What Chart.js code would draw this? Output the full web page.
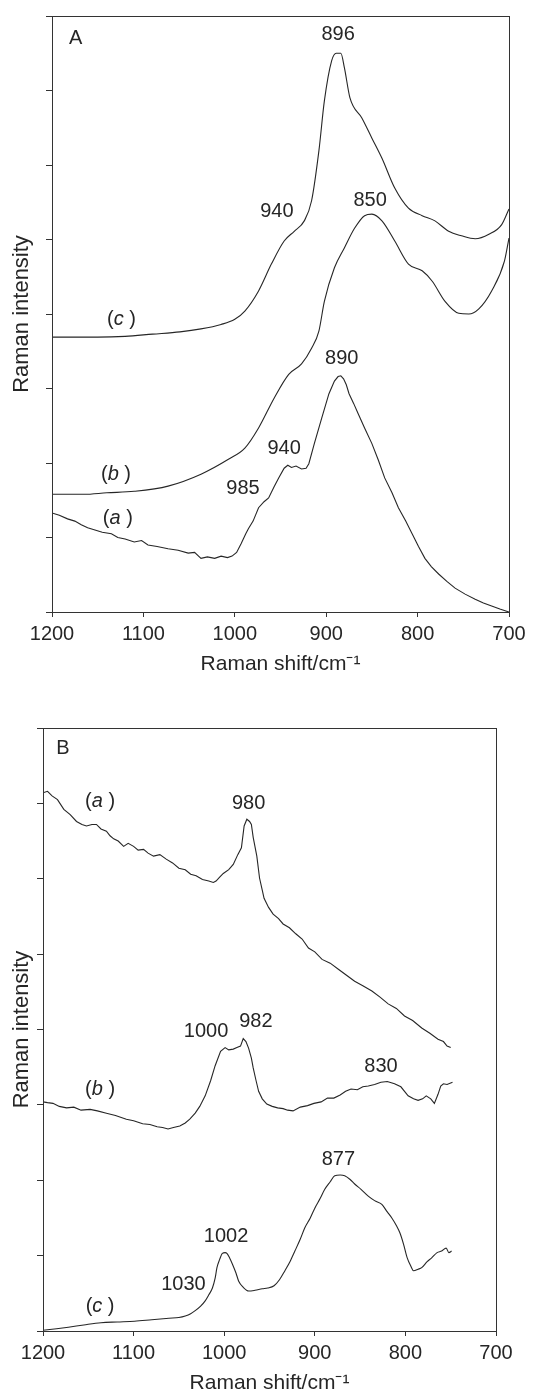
<!DOCTYPE html>
<html>
<head>
<meta charset="utf-8">
<script src="https://cdn.jsdelivr.net/npm/chart.js@4.4.1/dist/chart.umd.min.js"></script>
<style>
  html, body { margin: 0; padding: 0; background: #fff; overflow: hidden; }
  #wrapA { position: absolute; left: 0; top: 0; width: 536px; height: 690px; }
  #wrapB { position: absolute; left: 0; top: 690px; width: 536px; height: 704px; }
</style>
</head>
<body>
<div id="wrapA"><canvas id="chartA"></canvas></div>
<div id="wrapB"><canvas id="chartB"></canvas></div>
<script>
// axis ticks
const shiftTicks = [1200, 1100, 1000, 900, 800, 700];

// Panel A spectra (Raman shift / cm-1, intensity in tick units)
const aShiftA = [1200,1192,1183,1175,1168,1161,1153,1145,1135,1128,1120,1110,1102,1095,1085,1073,1062,1051,1044,1037,1030,1022,1015,1008,1003,998,993,988,985,980,974,968,963,957,952,946,942,938,933,927,922,919,913,905,897,891,887,884,881,878,875,870,865,858,850,843,836,828,821,813,806,799,792,785,777,768,759,748,737,728,719,710,700];
const aIntA = [1.33,1.30,1.25,1.22,1.17,1.13,1.10,1.07,1.05,1.00,0.98,0.94,0.96,0.90,0.88,0.85,0.83,0.79,0.80,0.72,0.74,0.72,0.75,0.73,0.75,0.80,0.92,1.05,1.12,1.22,1.40,1.48,1.53,1.68,1.80,1.93,1.97,1.94,1.96,1.92,1.93,1.99,2.26,2.60,2.93,3.10,3.16,3.17,3.13,3.05,2.93,2.80,2.66,2.47,2.26,2.04,1.80,1.60,1.40,1.22,1.05,0.88,0.72,0.61,0.51,0.41,0.32,0.24,0.17,0.12,0.08,0.04,0.0];

const bShiftA = [1200,1165,1140,1110,1073,1037,1007,989,974,957,941,927,916,908,902,891,880,869,858,850,839,825,810,795,784,770,755,744,733,719,705,700];
const bIntA = [1.58,1.58,1.60,1.62,1.69,1.85,2.05,2.20,2.47,2.87,3.19,3.33,3.54,3.77,4.17,4.62,4.89,5.15,5.32,5.34,5.25,4.98,4.67,4.58,4.44,4.17,4.01,4.00,4.07,4.31,4.71,5.02];

const cShiftA = [1200,1180,1150,1120,1090,1060,1037,1015,1000,989,974,960,946,935,924,916,908,902,894,889,884,880,874,861,850,839,825,810,795,781,766,752,737,722,708,700];
const cIntA = [3.69,3.69,3.69,3.70,3.73,3.76,3.80,3.86,3.93,4.04,4.31,4.67,4.98,5.11,5.25,5.52,6.19,6.86,7.40,7.50,7.50,7.30,6.90,6.63,6.36,6.09,5.69,5.42,5.32,5.25,5.11,5.05,5.01,5.07,5.20,5.41];

// Panel B spectra
const aShiftB = [1200,1195,1190,1184,1177,1170,1163,1157,1152,1146,1141,1136,1130,1126,1122,1117,1111,1106,1100,1095,1089,1084,1078,1071,1064,1057,1050,1043,1037,1031,1024,1017,1012,1009,1005,1001,995,990,985,981,978,975,972,970,968,964,961,958,956,951,946,940,935,928,921,914,907,900,892,883,874,865,856,847,837,828,819,810,801,792,782,773,764,758,754,750];
const aIntB = [7.14,7.16,7.10,7.05,6.92,6.85,6.76,6.72,6.70,6.72,6.72,6.66,6.63,6.57,6.53,6.50,6.43,6.47,6.43,6.38,6.39,6.34,6.30,6.32,6.26,6.21,6.14,6.12,6.06,6.04,5.99,5.97,5.95,5.97,6.02,6.07,6.12,6.19,6.32,6.41,6.70,6.79,6.76,6.72,6.55,6.30,6.01,5.85,5.74,5.62,5.53,5.47,5.40,5.35,5.27,5.20,5.08,5.03,4.93,4.88,4.80,4.72,4.64,4.58,4.51,4.43,4.34,4.28,4.18,4.12,4.02,3.95,3.87,3.84,3.78,3.76];

const bShiftB = [1200,1195,1189,1182,1174,1166,1158,1148,1140,1130,1120,1108,1100,1090,1082,1074,1068,1062,1056,1049,1043,1038,1032,1027,1021,1015,1010,1004,999,995,990,986,982,979,976,973,970,968,965,962,958,953,947,941,935,930,924,916,908,901,893,886,879,872,866,860,853,847,841,834,827,820,812,805,797,791,786,781,777,772,768,764,761,758,754,748];
const bIntB = [3.04,3.03,3.02,2.98,2.96,2.97,2.93,2.94,2.92,2.89,2.86,2.81,2.79,2.75,2.74,2.71,2.70,2.68,2.70,2.72,2.76,2.81,2.89,2.98,3.12,3.32,3.52,3.71,3.76,3.73,3.74,3.76,3.78,3.88,3.84,3.75,3.62,3.49,3.33,3.18,3.08,3.01,2.98,2.96,2.95,2.93,2.92,2.97,2.99,3.02,3.04,3.09,3.09,3.13,3.18,3.21,3.20,3.24,3.25,3.27,3.30,3.31,3.28,3.24,3.12,3.08,3.06,3.08,3.12,3.08,3.02,3.14,3.25,3.28,3.27,3.30];

const cShiftB = [1200,1185,1172,1155,1136,1118,1099,1080,1061,1050,1043,1037,1032,1026,1021,1017,1013,1010,1008,1005,1002,999,997,994,991,987,984,979,973,966,958,952,945,939,933,927,922,916,911,905,900,894,889,883,878,872,867,861,856,849,841,834,826,820,815,810,806,802,798,794,791,786,782,776,771,765,760,755,752,749];
const cIntB = [0.01,0.03,0.05,0.08,0.11,0.12,0.13,0.15,0.17,0.18,0.20,0.23,0.27,0.33,0.40,0.48,0.57,0.70,0.84,0.95,1.03,1.04,1.03,0.97,0.89,0.77,0.66,0.58,0.53,0.54,0.56,0.57,0.60,0.68,0.80,0.93,1.06,1.22,1.37,1.50,1.63,1.76,1.88,1.98,2.06,2.07,2.06,2.01,1.95,1.88,1.79,1.73,1.68,1.58,1.50,1.40,1.30,1.15,0.97,0.86,0.80,0.82,0.84,0.92,0.97,1.04,1.06,1.10,1.04,1.06];

// peak labels, placed in data units
const notesA = [
  { text: 'A', x: 1174, y: 7.70 },
  { text: '896', x: 887, y: 7.75 },
  { text: '940', x: 954, y: 5.37 },
  { text: '850', x: 852, y: 5.52 },
  { text: '(c)', x: 1124, y: 3.93 },
  { text: '890', x: 883, y: 3.40 },
  { text: '940', x: 946, y: 2.20 },
  { text: '985', x: 991, y: 1.66 },
  { text: '(b)', x: 1130, y: 1.84 },
  { text: '(a)', x: 1128, y: 1.26 }
];
const notesB = [
  { text: 'B', x: 1178, y: 7.73 },
  { text: '(a)', x: 1137, y: 7.03 },
  { text: '980', x: 973, y: 7.00 },
  { text: '1000', x: 1020, y: 3.98 },
  { text: '982', x: 965, y: 4.11 },
  { text: '(b)', x: 1137, y: 3.21 },
  { text: '830', x: 827, y: 3.51 },
  { text: '877', x: 874, y: 2.28 },
  { text: '1002', x: 998, y: 1.25 },
  { text: '1030', x: 1045, y: 0.62 },
  { text: '(c)', x: 1137, y: 0.33 }
];

const FONT = "'Liberation Sans', Arial, Helvetica, sans-serif";
const INK = '#262626';
Chart.defaults.font.family = FONT;
Chart.defaults.color = INK;

function toPoints(xs, ys) {
  return xs.map((x, i) => ({ x, y: ys[i] }));
}

// box round the plot area (top and right sides)
const framePlugin = {
  id: 'frame',
  afterDraw(chart) {
    const { ctx, chartArea: a } = chart;
    ctx.save();
    ctx.strokeStyle = '#333';
    ctx.lineWidth = 1;
    ctx.strokeRect(a.left + 0.5, a.top + 0.5, a.right - a.left, a.bottom - a.top);
    ctx.restore();
  }
};

function notesPlugin(notes) {
  return {
    id: 'notes',
    afterDatasetsDraw(chart) {
      const { ctx, scales } = chart;
      ctx.save();
      ctx.fillStyle = INK;
      ctx.textBaseline = 'middle';
      notes.forEach(n => {
        const px = scales.x.getPixelForValue(n.x);
        const py = scales.y.getPixelForValue(n.y);
        const m = n.text.match(/^\((\w)\)$/);
        if (m) {
          // "(a )" with the letter in italics
          const parts = [['(', ''], [m[1], 'italic '], [' )', '']];
          let total = 0;
          parts.forEach(p => { ctx.font = p[1] + '20px ' + FONT; total += ctx.measureText(p[0]).width; });
          let cx = px - total / 2;
          ctx.textAlign = 'left';
          parts.forEach(p => {
            ctx.font = p[1] + '20px ' + FONT;
            ctx.fillText(p[0], cx, py);
            cx += ctx.measureText(p[0]).width;
          });
        } else {
          ctx.font = '20px ' + FONT;
          ctx.textAlign = 'center';
          ctx.fillText(n.text, px, py);
        }
      });
      ctx.restore();
    }
  };
}

function makePanel(id, series, notes, box) {
  const ctx = document.getElementById(id);
  return new Chart(ctx, {
    type: 'line',
    data: {
      datasets: series.map(s => ({
        label: s.label,
        data: toPoints(s.x, s.y),
        borderColor: INK,
        borderWidth: 1.1,
        pointRadius: 0,
        cubicInterpolationMode: s.smooth ? 'monotone' : 'default',
        tension: 0,
        fill: false
      }))
    },
    options: {
      responsive: true,
      maintainAspectRatio: false,
      animation: false,
      layout: { padding: { top: box.top, right: 536 - box.right, bottom: 0, left: 0 } },
      plugins: { legend: { display: false }, tooltip: { enabled: false } },
      scales: {
        x: {
          type: 'linear',
          reverse: true,
          min: 700,
          max: 1200,
          afterBuildTicks: scale => { scale.ticks = shiftTicks.map(v => ({ value: v })); },
          ticks: {
            font: { size: 20 },
            padding: 5,
            maxRotation: 0,
            autoSkip: false,
            color: INK,
            callback: v => String(v)
          },
          grid: { drawOnChartArea: false, drawTicks: true, tickLength: 5, color: '#333' },
          border: { color: '#333', width: 1 },
          title: {
            display: true,
            text: 'Raman shift/cm⁻¹',
            font: { size: 21, lineHeight: 1 },
            padding: { top: 0, bottom: box.titlePad },
            color: INK
          },
          afterFit: scale => { scale.height = box.height - box.bottom; }
        },
        y: {
          min: 0,
          max: 8,
          ticks: { display: false, stepSize: 1 },
          grid: { drawOnChartArea: false, drawTicks: true, tickLength: 6, color: '#333' },
          border: { color: '#333', width: 1 },
          title: {
            display: true,
            text: 'Raman intensity',
            font: { size: 22, lineHeight: 1 },
            padding: { top: 11, bottom: 0 },
            color: INK
          },
          afterFit: scale => { scale.width = box.left; }
        }
      }
    },
    plugins: [framePlugin, notesPlugin(notes)]
  });
}

makePanel('chartA', [
  { label: '(a)', x: aShiftA, y: aIntA },
  { label: '(b)', x: bShiftA, y: bIntA, smooth: true },
  { label: '(c)', x: cShiftA, y: cIntA, smooth: true }
], notesA, { left: 52, right: 509, top: 16, bottom: 612, height: 690, titlePad: 15 });

makePanel('chartB', [
  { label: '(a)', x: aShiftB, y: aIntB },
  { label: '(b)', x: bShiftB, y: bIntB },
  { label: '(c)', x: cShiftB, y: cIntB, smooth: true }
], notesB, { left: 43, right: 496, top: 38, bottom: 641, height: 704, titlePad: 0 });
</script>
</body>
</html>
